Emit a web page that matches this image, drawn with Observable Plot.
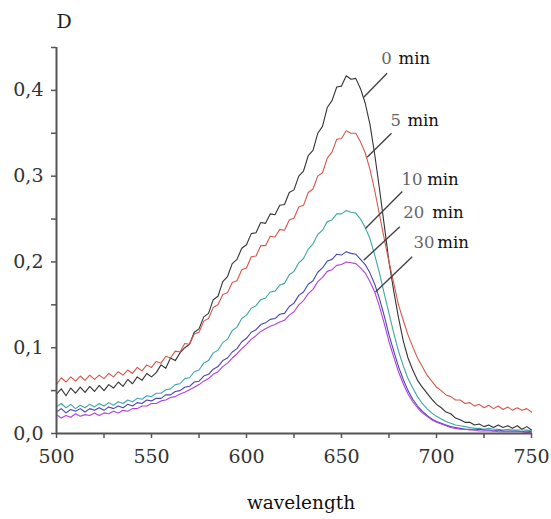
<!DOCTYPE html>
<html>
<head>
<meta charset="utf-8">
<script src="https://cdn.jsdelivr.net/npm/d3@7"></script>
<script src="https://cdn.jsdelivr.net/npm/@observablehq/plot@0.6"></script>
<style>
  html, body { margin: 0; padding: 0; background: #fff; }
  svg { display: block; }
</style>
</head>
<body>
<div id="chart"></div>
<script>
// wavelength grid (nm)
const wavelength = [
  500,502.5,505,507.5,510,512.5,515,517.5,520,522.5,
  525,527.5,530,532.5,535,537.5,540,542.5,545,547.5,
  550,552.5,555,557.5,560,562.5,565,567.5,570,572.5,
  575,577.5,580,582.5,585,587.5,590,592.5,595,597.5,
  600,602.5,605,607.5,610,612.5,615,617.5,620,622.5,
  625,627.5,630,632.5,635,637.5,640,642.5,645,647.5,
  650,652.5,655,657.5,660,662.5,665,667.5,670,672.5,
  675,677.5,680,682.5,685,687.5,690,692.5,695,697.5,
  700,702.5,705,707.5,710,712.5,715,717.5,720,722.5,
  725,727.5,730,732.5,735,737.5,740,742.5,745,747.5,
  750
];

const seriesNames = ["0 min", "5 min", "10 min", "20 min", "30 min"];

const d0 = [
  .046,.052,.044,.053,.047,.054,.048,.055,.049,.056,
  .050,.057,.053,.060,.055,.063,.058,.066,.062,.070,
  .066,.071,.080,.076,.088,.085,.094,.100,.104,.118,
  .122,.136,.140,.156,.160,.177,.183,.198,.203,.216,
  .220,.233,.234,.246,.245,.256,.255,.266,.267,.281,
  .284,.300,.306,.324,.330,.350,.358,.380,.388,.404,
  .405,.417,.413,.414,.402,.385,.360,.325,.285,.243,
  .200,.166,.135,.108,.088,.074,.062,.054,.047,.040,
  .034,.030,.025,.023,.018,.016,.013,.013,.010,.011,
  .008,.010,.007,.010,.007,.009,.006,.009,.005,.008,
  .004
];
const d5 = [
  .057,.065,.060,.066,.061,.067,.062,.068,.063,.068,
  .064,.070,.066,.072,.068,.074,.070,.077,.073,.080,
  .077,.084,.082,.090,.088,.096,.095,.105,.104,.116,
  .118,.131,.134,.147,.150,.162,.164,.176,.178,.191,
  .193,.206,.207,.219,.219,.230,.229,.238,.237,.249,
  .251,.264,.266,.281,.285,.300,.304,.321,.328,.343,
  .344,.353,.350,.350,.340,.327,.308,.283,.255,.227,
  .200,.175,.150,.132,.115,.101,.088,.078,.068,.061,
  .054,.050,.045,.043,.039,.039,.035,.036,.032,.034,
  .030,.033,.029,.032,.028,.031,.027,.030,.027,.029,
  .025
];
const d10 = [
  .031,.035,.030,.034,.029,.033,.030,.034,.031,.035,
  .032,.036,.033,.037,.035,.039,.037,.041,.040,.044,
  .043,.047,.047,.051,.052,.057,.058,.064,.065,.072,
  .074,.082,.085,.094,.097,.106,.110,.120,.124,.134,
  .138,.146,.149,.156,.158,.165,.166,.173,.175,.185,
  .189,.199,.204,.215,.221,.232,.237,.247,.249,.256,
  .256,.260,.258,.257,.250,.240,.227,.208,.187,.163,
  .140,.117,.096,.079,.064,.053,.043,.035,.029,.024,
  .020,.017,.014,.012,.010,.009,.008,.007,.006,.006,
  .005,.006,.005,.005,.004,.005,.004,.004,.004,.004,
  .003
];
const d20 = [
  .025,.029,.024,.028,.026,.029,.025,.029,.027,.030,
  .027,.031,.029,.032,.030,.034,.032,.036,.035,.039,
  .038,.041,.041,.045,.045,.049,.050,.054,.055,.060,
  .061,.067,.069,.075,.078,.085,.088,.095,.099,.107,
  .111,.118,.121,.127,.129,.133,.134,.139,.140,.148,
  .152,.161,.165,.174,.178,.188,.193,.201,.203,.209,
  .208,.212,.210,.209,.203,.197,.187,.174,.157,.137,
  .115,.096,.078,.063,.050,.040,.032,.026,.021,.017,
  .014,.012,.010,.008,.007,.006,.005,.005,.004,.005,
  .004,.004,.003,.004,.003,.003,.003,.003,.002,.003,
  .002
];
const d30 = [
  .022,.018,.021,.019,.023,.020,.022,.021,.024,.021,
  .024,.023,.026,.024,.027,.026,.029,.029,.032,.032,
  .035,.035,.038,.039,.042,.043,.046,.048,.051,.054,
  .057,.061,.064,.069,.072,.078,.082,.088,.093,.099,
  .104,.110,.114,.119,.122,.125,.127,.130,.132,.138,
  .142,.150,.155,.163,.168,.177,.182,.189,.191,.196,
  .197,.200,.199,.198,.193,.187,.177,.165,.148,.128,
  .107,.089,.072,.058,.046,.037,.030,.024,.020,.016,
  .013,.011,.009,.007,.006,.005,.005,.004,.004,.003,
  .003,.003,.003,.002,.002,.002,.002,.002,.002,.001,
  .001
];

const xTicks = [500, 525, 550, 575, 600, 625, 650, 675, 700, 725, 750];
const xTickLabels = ["500", "", "550", "", "600", "", "650", "", "700", "", "750"];
const yTicks = [0, 0.05, 0.1, 0.15, 0.2, 0.25, 0.3, 0.35, 0.4, 0.45];
const yTickLabels = ["0,0", "", "0,1", "", "0,2", "", "0,3", "", "0,4", ""];

// annotation: number, leader start on curve, leader end, label positions (data units)
const labelNums = ["0", "5", "10", "20", "30"];
const leaderX1 = [661.7, 663.5, 662.6, 661.7, 667.9];
const leaderY1 = [0.392, 0.322, 0.239, 0.202, 0.165];
const leaderX2 = [674.0, 676.3, 682.0, 680.7, 687.2];
const leaderY2 = [0.420, 0.350, 0.282, 0.241, 0.206];
const numX = [670.9, 675.8, 681.6, 682.5, 687.9];
const minX = [680.0, 684.7, 695.1, 697.7, 700.4];
const labelY = [0.4364, 0.365, 0.2964, 0.2575, 0.2229];

const seriesData = [d0, d5, d10, d20, d30];
const table = seriesNames.flatMap((s, k) =>
  wavelength.map((w, i) => ({series: s, w, d: seriesData[k][i]}))
);
const annot = labelNums.map((n, i) => ({
  num: n, x1: leaderX1[i], y1: leaderY1[i], x2: leaderX2[i], y2: leaderY2[i],
  nx: numX[i], mx: minX[i], ly: labelY[i]
}));

const xLab = new Map(xTicks.map((t, i) => [t, xTickLabels[i]]));
const yLab = new Map(yTicks.map((t, i) => [t, yTickLabels[i]]));

const axisColor = "#555";
const ff = "DejaVu Serif";

const chart = Plot.plot({
  width: 551,
  height: 519,
  marginLeft: 56,
  marginRight: 20,
  marginTop: 47,
  marginBottom: 86,
  style: "font-family: 'DejaVu Serif', serif; font-size: 19px; color: #333; background: #fff; overflow: visible;",
  x: {domain: [500, 750]},
  y: {domain: [0, 0.45]},
  color: {domain: seriesNames, range: ["#333333", "#d4584a", "#3fa6a6", "#4646b4", "#b43ee0"]},
  marks: [
    Plot.lineY(table, {x: "w", y: "d", z: "series", stroke: "series", strokeWidth: 1.1}),
    Plot.ruleY([0], {stroke: axisColor, strokeWidth: 2}),
    Plot.ruleX([500], {y1: 0, y2: 0.45, stroke: axisColor, strokeWidth: 2}),
    Plot.axisX({ticks: xTicks, tickSize: 5, tickPadding: 11, tickFormat: d => xLab.get(d),
      label: null, stroke: axisColor, strokeWidth: 1.5, fontSize: 19, fontFamily: ff, fill: "#333"}),
    Plot.axisY({ticks: yTicks, tickSize: 5, tickPadding: 8, tickFormat: d => yLab.get(d),
      label: null, stroke: axisColor, strokeWidth: 1.5, fontSize: 19, fontFamily: ff, fill: "#333"}),
    Plot.text(["D"], {text: d => d, frameAnchor: "top-left", dy: -33, fontSize: 19, fontFamily: ff, fill: "#222"}),
    Plot.text(["wavelength"], {text: d => d, frameAnchor: "bottom", dy: 75, dx: 7, fontSize: 18.5, fontFamily: ff, fill: "#111"}),
    Plot.link(annot, {x1: "x1", y1: "y1", x2: "x2", y2: "y2", stroke: "#444", strokeWidth: 1.4}),
    Plot.text(annot, {x: "nx", y: "ly", text: "num", textAnchor: "start", fontSize: 16.5, fontFamily: ff, fill: "#666"}),
    Plot.text(annot, {x: "mx", y: "ly", text: () => "min", textAnchor: "start", fontSize: 16.5, fontFamily: ff, fill: "#111"})
  ]
});
document.getElementById("chart").append(chart);
</script>
</body>
</html>
